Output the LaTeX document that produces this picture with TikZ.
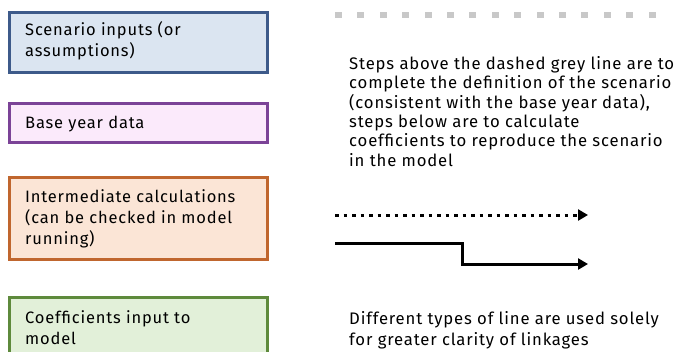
\documentclass[tikz,border=0pt]{standalone}
\usepackage{fontspec}
\setmainfont{Fira Sans}[LetterSpace=5]
\usetikzlibrary{arrows.meta}
\definecolor{bluedge}{HTML}{3D5A8A}\definecolor{blufill}{HTML}{DBE5F1}
\definecolor{purpedge}{HTML}{7B4397}\definecolor{purpfill}{HTML}{FBEAFB}
\definecolor{orgedge}{HTML}{C0662E}\definecolor{orgfill}{HTML}{FBE5D6}
\definecolor{grnedge}{HTML}{5E8A3C}\definecolor{grnfill}{HTML}{E2F0D9}
\definecolor{dashgrey}{HTML}{C8C8C8}
\tikzset{
  keybox/.style={draw=#1edge, fill=#1fill, line width=3pt},
  keytext/.style={anchor=north west, align=left, inner sep=0pt,
    font=\fontsize{16.5}{21}\selectfont},
  note/.style={anchor=north west, align=left, inner sep=0pt,
    font=\fontsize{16.7}{19.4}\selectfont},
  link/.style={line width=3pt, -{Triangle[length=10pt,width=11pt]}},
}
\begin{document}
\begin{tikzpicture}[x=1pt,y=-1pt]
\clip (0,0) rectangle (679,351);
\fill[white] (0,0) rectangle (679,351);
% colour key boxes
\draw[keybox=blu] (9,12) rectangle (267,72);
\draw[keybox=purp] (9,103) rectangle (267,142);
\draw[keybox=org] (9,177) rectangle (267,259);
\draw[keybox=grn] (9,297) rectangle (267,370);
\node[keytext] (k1) at (25,21) {Scenario inputs (or\\assumptions)};
\node[keytext] (k2) at (25,116) {Base year data};
\node[keytext] (k3) at (25,189) {Intermediate calculations\\(can be checked in model\\running)};
\node[keytext] (k4) at (25,310) {Coefficients input to\\model};
% dashed grey divider sample
\foreach \i in {0,...,14}
  \fill[dashgrey] (335+22.4*\i,12) rectangle ++(7,6);
% explanatory notes
\node[note] (n1) at (349,56) {Steps above the dashed grey line are to\\
complete the definition of the scenario\\
(consistent with the base year data),\\
steps below are to calculate\\
coefficients to reproduce the scenario\\
in the model};
\node[note, font=\fontsize{16.7}{21}\selectfont] (n2) at (349,311) {Different types of line are used solely\\
for greater clarity of linkages};
% line style samples
\coordinate (d0) at (335,215);
\coordinate (d1) at (588,215);
\coordinate (s0) at (335,243);
\coordinate (s1) at (462,243);
\coordinate (s2) at (462,264);
\coordinate (s3) at (588,264);
\draw[link, dash pattern=on 3.5pt off 5pt] (d0) -- (d1);
\draw[link] (s0) -- (s1) -- (s2) -- (s3);
\end{tikzpicture}
\end{document}
